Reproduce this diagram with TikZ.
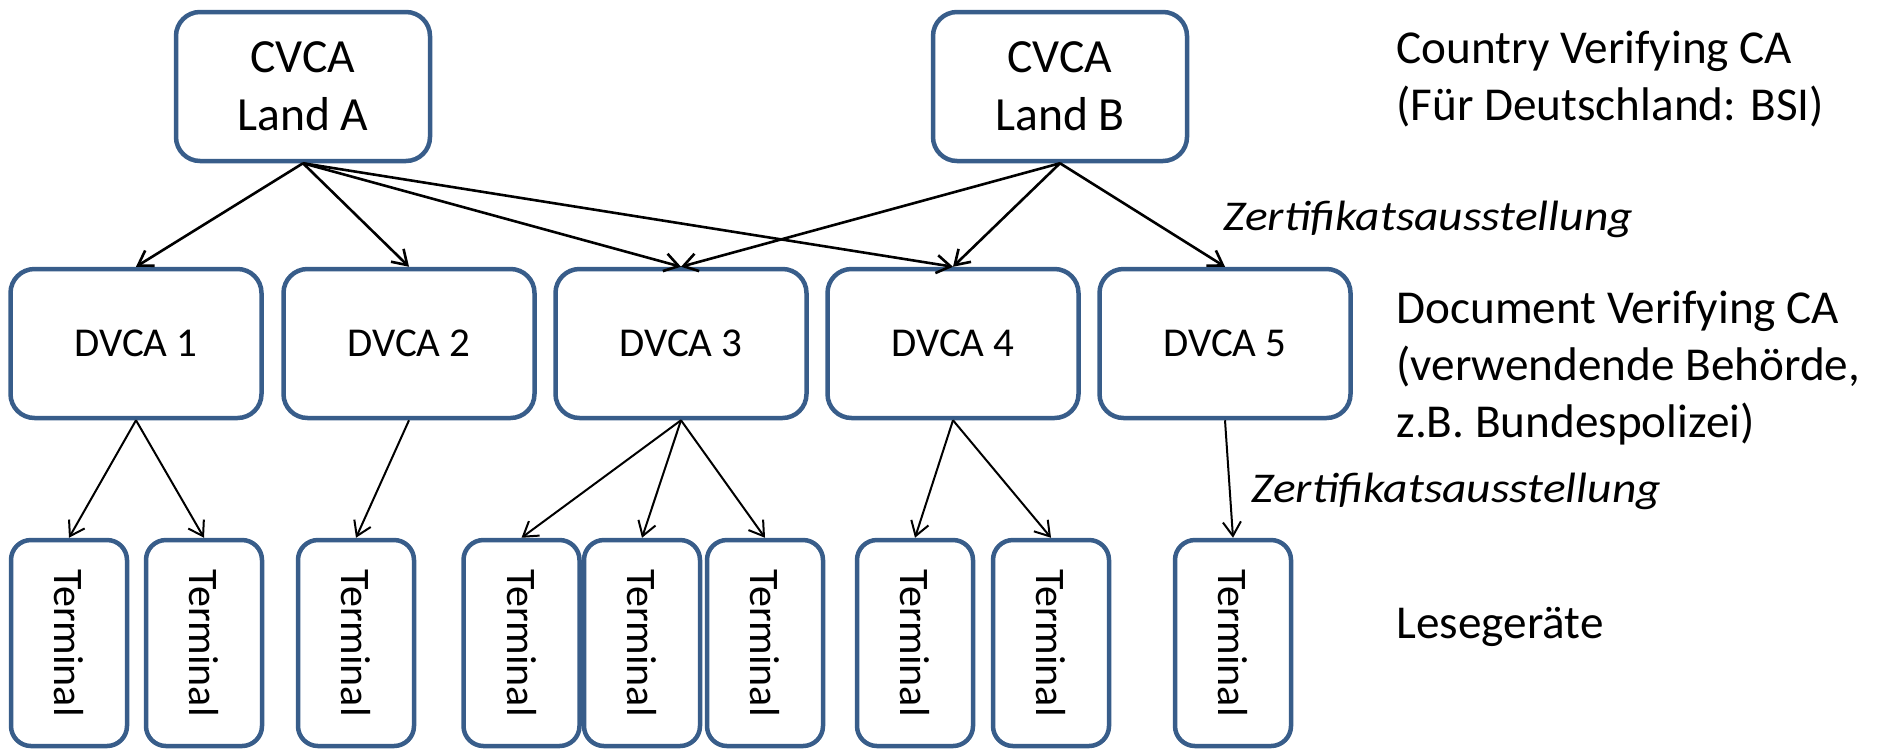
\documentclass[tikz,border=0pt]{standalone}
\usepackage{fontspec}
\usepackage{graphicx}
\setmainfont{Carlito}
\newfontfamily\issuefont{Carlito}[FakeStretch=1.12]
\usetikzlibrary{arrows.meta}
\definecolor{boxblue}{RGB}{56,93,138}

\begin{document}
\begin{tikzpicture}[x=0.5pt,y=-0.5pt,
  cabox/.style={draw=boxblue, line width=2.25pt, fill=white, rounded corners=12pt, inner sep=0pt, align=center},
  cvcabox/.style={cabox, minimum width=127pt, minimum height=74.5pt, font=\fontsize{23.8}{29}\selectfont},
  dvcabox/.style={cabox, minimum width=125.5pt, minimum height=74.5pt, font=\fontsize{20.5}{24}\selectfont},
  termbox/.style={cabox, minimum width=58pt, minimum height=103pt, rounded corners=10pt, font=\fontsize{21}{24}\selectfont},
  issue/.style={-{Straight Barb[length=7pt,width=9pt]}, line width=1.3pt},
  issuethin/.style={-{Straight Barb[length=7pt,width=9pt]}, line width=1pt},
  levellabel/.style={anchor=base west, inner sep=0pt, align=left, font=\fontsize{23.6}{28.5}\selectfont},
  issuelabel/.style={anchor=base west, inner sep=0pt, font=\fontsize{21.2}{25}\issuefont\itshape}]
\useasboundingbox (0,0) rectangle (1879,751);

% CVCA
\node[cvcabox] (cvcaA) at (303,86.5) {CVCA\\Land A};
\node[cvcabox] (cvcaB) at (1060,86.5) {CVCA\\Land B};

% DVCA
\node[dvcabox] (dvca1) at (136,343.5) {DVCA 1};
\node[dvcabox] (dvca2) at (409,343.5) {DVCA 2};
\node[dvcabox] (dvca3) at (681,343.5) {DVCA 3};
\node[dvcabox] (dvca4) at (953,343.5) {DVCA 4};
\node[dvcabox] (dvca5) at (1225,343.5) {DVCA 5};

% Terminals
\node[termbox] (term1) at (69,643) {\rotatebox{-90}{Terminal}};
\node[termbox] (term2) at (204,643) {\rotatebox{-90}{Terminal}};
\node[termbox] (term3) at (356,643) {\rotatebox{-90}{Terminal}};
\node[termbox] (term4) at (521.5,643) {\rotatebox{-90}{Terminal}};
\node[termbox] (term5) at (642,643) {\rotatebox{-90}{Terminal}};
\node[termbox] (term6) at (765,643) {\rotatebox{-90}{Terminal}};
\node[termbox] (term7) at (915,643) {\rotatebox{-90}{Terminal}};
\node[termbox] (term8) at (1051,643) {\rotatebox{-90}{Terminal}};
\node[termbox] (term9) at (1233,643) {\rotatebox{-90}{Terminal}};

% CVCA -> DVCA
\draw[issue] (cvcaA.south) -- (dvca1.north);
\draw[issue] (cvcaA.south) -- (dvca2.north);
\draw[issue] (cvcaA.south) -- (dvca3.north);
\draw[issue] (cvcaA.south) -- (dvca4.north);
\draw[issue] (cvcaB.south) -- (dvca3.north);
\draw[issue] (cvcaB.south) -- (dvca4.north);
\draw[issue] (cvcaB.south) -- (dvca5.north);

% DVCA -> Terminal
\draw[issuethin] (dvca1.south) -- (term1.north);
\draw[issuethin] (dvca1.south) -- (term2.north);
\draw[issuethin] (dvca2.south) -- (term3.north);
\draw[issuethin] (dvca3.south) -- (term4.north);
\draw[issuethin] (dvca3.south) -- (term5.north);
\draw[issuethin] (dvca3.south) -- (term6.north);
\draw[issuethin] (dvca4.south) -- (term7.north);
\draw[issuethin] (dvca4.south) -- (term8.north);
\draw[issuethin] (dvca5.south) -- (term9.north);

% Text Node
\node[levellabel] (cvcalbl) at (1396,120) {Country Verifying CA\\(Für Deutschland: BSI)};
\node[levellabel] (dvcalbl) at (1396,437) {Document Verifying CA\\(verwendende Behörde,\\z.B. Bundespolizei)};
\node[levellabel] (termlbl) at (1396,638) {Lesegeräte};
% Text Node
\node[issuelabel] (issueA) at (1223,230) {Zertifikatsausstellung};
\node[issuelabel] (issueB) at (1251,502) {Zertifikatsausstellung};
\end{tikzpicture}
\end{document}
